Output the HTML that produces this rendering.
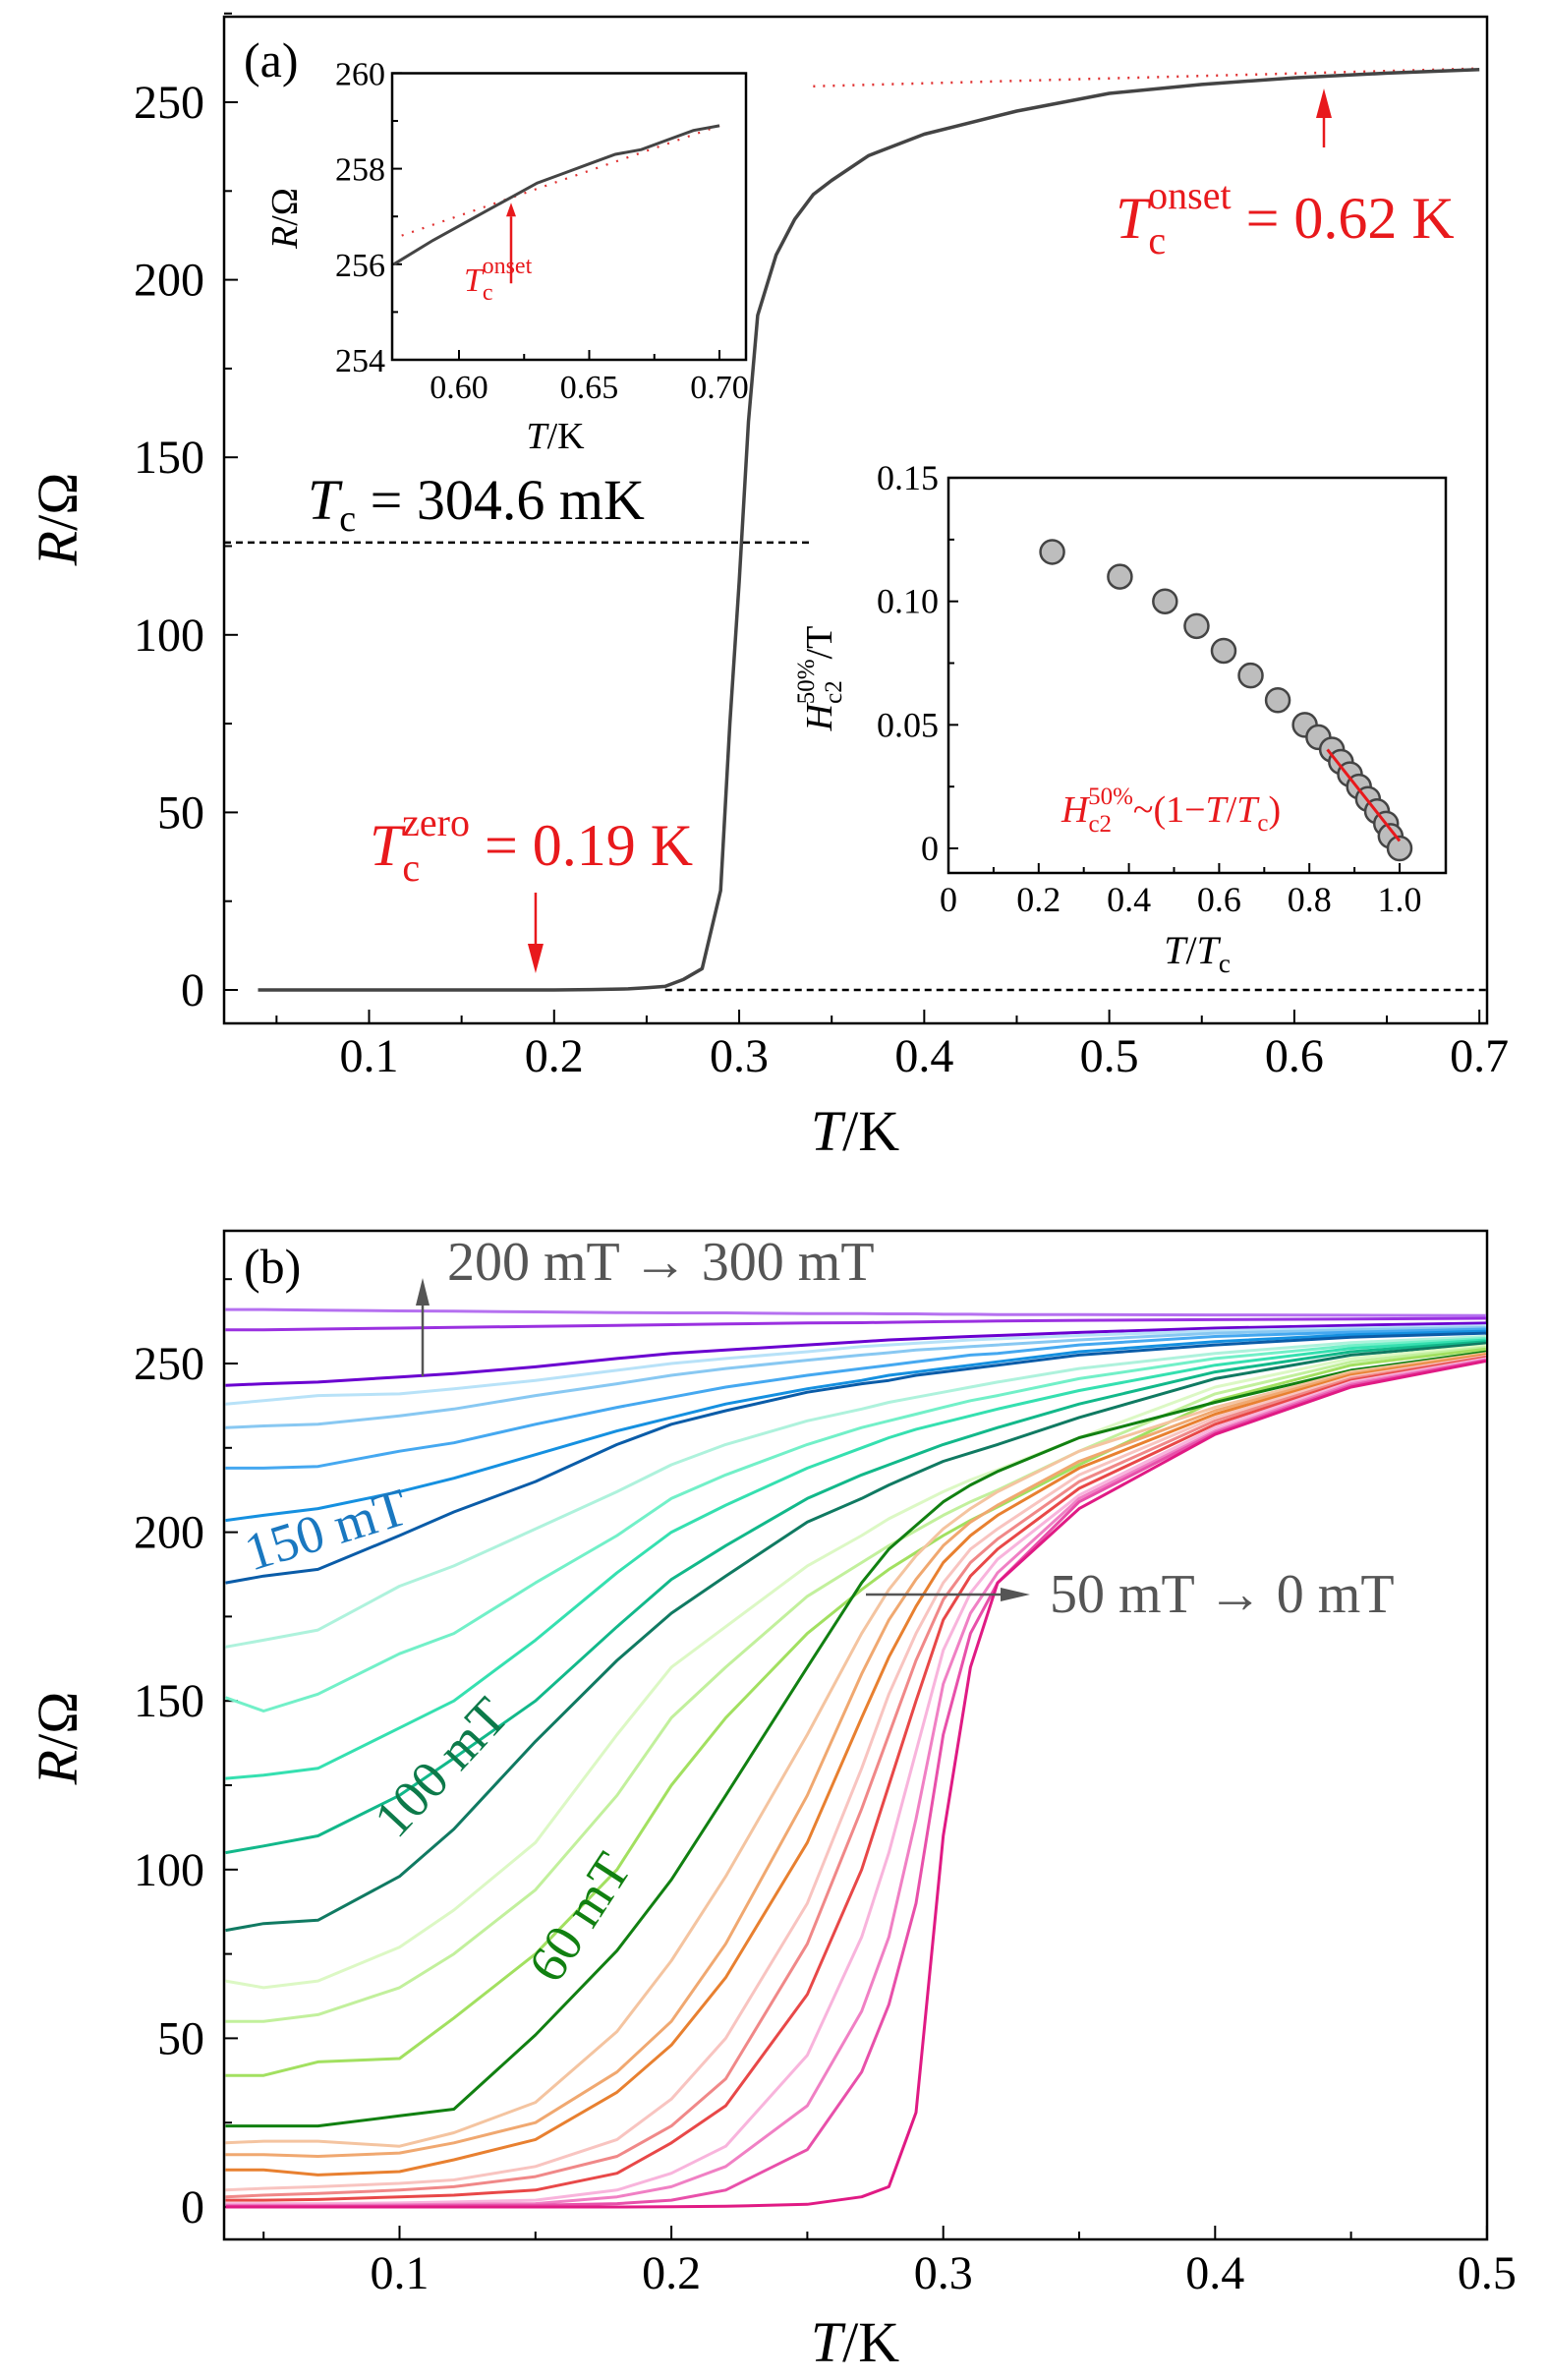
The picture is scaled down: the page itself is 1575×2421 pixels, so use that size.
<!DOCTYPE html>
<html><head><meta charset="utf-8">
<style>
html,body{margin:0;padding:0;background:#fff;}
svg{display:block;font-family:"Liberation Serif","DejaVu Serif",serif;}
</style></head>
<body>
<svg id="chart" width="1575" height="2421" viewBox="0 0 1575 2421" xmlns="http://www.w3.org/2000/svg">
<g id="pa"></g>
<g id="pb"></g>
</svg>
<script>
// ---------- data: panel a ----------
const mainT = [0.04,0.1,0.15,0.2,0.22,0.24,0.25,0.26,0.27,0.28,0.29,0.295,0.30,0.305,0.31,0.32,0.33,0.34,0.35,0.37,0.40,0.45,0.50,0.55,0.60,0.65,0.70];
const mainR = [0,0,0,0,0.1,0.3,0.6,1,3,6,28,75,115,160,190,207,217,224,228,235,241,247.5,252.5,255,256.9,258.2,259.2];
const aXTicks = [0.1,0.2,0.3,0.4,0.5,0.6,0.7];
const aYTicks = [0,50,100,150,200,250];
const insetT = [0.575,0.59,0.60,0.61,0.62,0.63,0.64,0.65,0.66,0.67,0.68,0.69,0.70];
const insetR = [256.0,256.5,256.8,257.1,257.4,257.7,257.9,258.1,258.3,258.4,258.6,258.8,258.9];
const insetXTicks = [0.60,0.65,0.70];
const insetYTicks = [254,256,258,260];
const hcT = [0.23,0.38,0.48,0.55,0.61,0.67,0.73,0.79,0.82,0.85,0.87,0.89,0.91,0.93,0.95,0.97,0.98,1.0];
const hcH = [0.12,0.11,0.10,0.09,0.08,0.07,0.06,0.05,0.045,0.04,0.035,0.03,0.025,0.02,0.015,0.01,0.005,0.0];
const hcXTicks = [0,0.2,0.4,0.6,0.8,1.0];
const hcYTicks = [0,0.05,0.10,0.15];
// ---------- data: panel b ----------
const bXTicks = [0.1,0.2,0.3,0.4,0.5];
const bYTicks = [0,50,100,150,200,250];
const bT = [0.036,0.05,0.07,0.1,0.12,0.15,0.18,0.2,0.22,0.25,0.27,0.28,0.29,0.3,0.31,0.32,0.35,0.4,0.45,0.5];
const seriesColors = ["#b570f0","#9a30e0","#6a00d0","#b8e2f8","#88c8f2","#45a8f0","#1590e0","#0a5ca8","#aef2dc","#72f0c8","#35e0b0","#12b88a","#107a62","#dcf8c4","#c2f09c","#a2e060","#118011","#f4c4a0","#f0a870","#e88030","#f8c4c0","#f08888","#e84848","#f8b4dc","#f080c4","#e850aa","#e01a84"];
const seriesR = [
[266,266,265.8,265.6,265.5,265.3,265.1,265,265,264.8,264.8,264.7,264.7,264.6,264.6,264.5,264.5,264.4,264.3,264.2],
[260,260,260.2,260.5,260.7,261,261.3,261.5,261.7,262,262.1,262.2,262.3,262.4,262.5,262.6,262.8,263,263.2,263.4],
[243.5,244,244.5,246,247,249,251.5,253,254,255.5,256.5,257,257.3,257.7,258,258.3,259.2,260.5,261.3,262],
[238,239,240.5,241,242.5,245,248,250,251.5,253.5,255,255.5,256,256.5,257,257.3,258.3,259.7,260.5,261.2],
[231,231.5,232,234.5,236.5,240.5,244,246.5,248.5,251,252.5,253.2,254,254.5,255,255.5,257,259,260,260.7],
[219,219,219.5,224,226.5,232,237,240,243,246.5,248.5,249.5,250.5,251.5,252.5,253,255.5,258,259.3,260.2],
[203.5,205,207,212,216,223,230,234,238,242.5,245,246.5,247.5,248.5,249.5,250.5,253.5,256.5,258.5,259.6],
[185,187,189,199,206,215,226,232,236,241.5,244,245,246.5,247.5,248.5,249.5,252.5,255.5,257.8,259],
[166,168,171,184,190,201,212,220,226,233,236.5,238.5,240,241.5,243,244.5,248.5,253,256.2,258],
[151,147,152,164,170,185,199,210,217,226,231,233,235,237,239,240.5,245.5,251.5,255.3,257.5],
[127,128,130,142,150,168,188,200,208,219,225,228,230.5,232.5,234.5,236.5,242,249.5,254.5,257],
[105,107,110,122,133,150,172,186,196,210,217,220,223,226,228.5,231,238,247.5,253.5,256.5],
[82,84,85,98,112,138,162,176,187,203,210,214,217.5,221,223.5,226,234,245.5,252.5,256],
[67,65,67,77,88,108,140,160,172,190,199,204,208,212,215.5,218.5,228,243,251.5,255.3],
[55,55,57,65,75,94,122,145,160,181,191,196,200.5,205,209,212.5,224,241,250.5,254.8],
[39,39,43,44,56,75,100,125,145,170,183,189,194,199,203.5,207.5,220,239,249.5,254.3],
[24,24,24,27,29,51,76,97,122,160,185,195,202,209,214,218,228,238.5,248,253.5],
[19,19.5,19.5,18,22,31,52,73,98,140,170,183,193,201,207,212,224,237,247.5,253],
[15.5,15.5,15,16,19,25,40,55,78,122,158,174,186,196,203,208,221,236,247,252.8],
[11,11,9.5,10.5,14,20,34,48,68,108,145,163,178,191,199,205,219,235,246.5,252.5],
[5,5.5,6,7,8,12,20,32,50,90,130,152,170,185,195,201,217,234,246,252.2],
[3,3.5,4,5,6,9,15,24,38,78,118,140,162,180,191,198,215,233,245.5,252],
[2,2,2.2,3,3.5,5,10,19,30,63,100,125,150,174,187,195,213,232,245,251.8],
[1,1,1,1.2,1.5,2,5,10,18,45,80,105,135,165,182,192,211,231,244.5,251.5],
[0.5,0.5,0.5,0.6,0.8,1,3,6,12,30,58,80,115,155,176,188,210,230,244,251.2],
[0.2,0.2,0.2,0.3,0.4,0.5,1,2,5,17,40,60,90,140,170,185,209,229.5,243.5,251],
[0,0,0,0,0,0,0,0.1,0.2,0.8,3,6,28,110,160,185,207,229,243,250.8]
];

// ---------- helpers ----------
const NS = "http://www.w3.org/2000/svg";
function mk(parent, tag, attrs, text){
  const e = document.createElementNS(NS, tag);
  for (const k in attrs) e.setAttribute(k, attrs[k]);
  if (text !== undefined) e.textContent = text;
  parent.appendChild(e);
  return e;
}
function poly(xs, ys, fx, fy){ return xs.map((x,i)=>fx(x).toFixed(1)+","+fy(ys[i]).toFixed(1)).join(" "); }

const pa = document.getElementById("pa");
const pb = document.getElementById("pb");

const xa = t => 375.5 + (t-0.1)*1882.8;
const ya = r => 1007 - r*3.612;
const xi = t => 467 + (t-0.6)*2650;
const yi = r => 366 - (r-254)*48.6;
const xh = t => 965 + t*459;
const yh = h => 863 - h*2513;
const xb = t => 406.5 + (t-0.1)*2766;
const yb = r => 2245 - r*3.432;

const TICKF = 48, TITLEF = 58;
// ================= PANEL A =================
let el;
el = mk(pa,"rect",{x:228,y:17,width:1285,height:1024,fill:"none",stroke:"#000","stroke-width":2.5});


for (let v=0.05; v<=0.701; v+=0.05){
  const major = Math.abs(Math.round(v*10)-v*10)<1e-6;
  el = mk(pa,"line",{x1:xa(v),x2:xa(v),y1:1041,y2:1041-(major?14:8),stroke:"#000","stroke-width":2});
  
  
}
aXTicks.forEach(v=>{
  el = mk(pa,"text",{x:xa(v),y:1090,"font-size":TICKF,"text-anchor":"middle"},v.toFixed(1));
  
  
});
for (let v=0; v<=275; v+=25){
  const major = v%50===0;
  el = mk(pa,"line",{x1:228,x2:228+(major?14:8),y1:ya(v),y2:ya(v),stroke:"#000","stroke-width":2});
  
  
}
aYTicks.forEach(v=>{
  el = mk(pa,"text",{x:208,y:ya(v)+16,"font-size":TICKF,"text-anchor":"end"},String(v));
  
  
});
el = mk(pa,"text",{x:870,y:1170,"font-size":TITLEF,"text-anchor":"middle"});
el.innerHTML = '<tspan font-style="italic">T</tspan>/K';


el = mk(pa,"text",{x:0,y:0,"font-size":TITLEF,"text-anchor":"middle",transform:"translate(78,528) rotate(-90)"});
el.innerHTML = '<tspan font-style="italic">R</tspan>/Ω';


el = mk(pa,"text",{x:248,y:78,"font-size":50},"(a)");


el = mk(pa,"line",{x1:228,x2:xa(0.34),y1:ya(126),y2:ya(126),stroke:"#000","stroke-width":2.5,"stroke-dasharray":"7,5"});


el = mk(pa,"line",{x1:xa(0.26),x2:1513,y1:ya(0),y2:ya(0),stroke:"#000","stroke-width":2.5,"stroke-dasharray":"7,5"});


el = mk(pa,"line",{x1:xa(0.34),x2:xa(0.7),y1:ya(254.5),y2:ya(259.5),stroke:"#e03030","stroke-width":2.5,"stroke-dasharray":"2,8"});


el = mk(pa,"polyline",{points:poly(mainT,mainR,xa,ya),fill:"none",stroke:"#444","stroke-width":3.5,"stroke-linejoin":"round"});


el = mk(pa,"text",{x:313,y:528,"font-size":58});
el.innerHTML = '<tspan font-style="italic">T</tspan><tspan font-size="38" dy="12">c</tspan><tspan dy="-12"> = 304.6 mK</tspan>';


el = mk(pa,"text",{x:376,y:880,"font-size":60,fill:"#e8191c"});
el.innerHTML = '<tspan font-style="italic">T</tspan><tspan font-size="40" dy="16">c</tspan><tspan font-size="40" dx="-18" dy="-46">zero</tspan><tspan dy="30"> = 0.19 K</tspan>';


el = mk(pa,"line",{x1:xa(0.19),x2:xa(0.19),y1:908,y2:962,stroke:"#e8191c","stroke-width":2.5});


mk(pa,"polygon",{points:`${xa(0.19)-8},960 ${xa(0.19)+8},960 ${xa(0.19)},990`,fill:"#e8191c"});
el = mk(pa,"text",{x:1135,y:242,"font-size":60,fill:"#e8191c"});
el.innerHTML = '<tspan font-style="italic">T</tspan><tspan font-size="40" dy="16">c</tspan><tspan font-size="40" dx="-18" dy="-46">onset</tspan><tspan dy="30"> = 0.62 K</tspan>';


el = mk(pa,"line",{x1:1347,x2:1347,y1:150,y2:118,stroke:"#e8191c","stroke-width":2.5});


mk(pa,"polygon",{points:`1339,120 1355,120 1347,90`,fill:"#e8191c"});

// ---- inset 1 ----
el = mk(pa,"rect",{x:399,y:74.5,width:360,height:291.5,fill:"#fff",stroke:"#000","stroke-width":2.5});


for (let v=0.6; v<=0.7001; v+=0.025){
  const major = Math.abs(Math.round(v*20)-v*20)<1e-6;
  mk(pa,"line",{x1:xi(v),x2:xi(v),y1:366,y2:366-(major?10:6),stroke:"#000","stroke-width":2});
}
insetXTicks.forEach(v=>{
  el = mk(pa,"text",{x:xi(v),y:405,"font-size":34,"text-anchor":"middle"},v.toFixed(2));
  
  
});
for (let v=254; v<=260; v+=1){
  mk(pa,"line",{x1:399,x2:399+(v%2===0?10:6),y1:yi(v),y2:yi(v),stroke:"#000","stroke-width":2});
}
insetYTicks.forEach(v=>{
  el = mk(pa,"text",{x:392,y:yi(v)+12,"font-size":34,"text-anchor":"end"},String(v));
  
  
});
el = mk(pa,"text",{x:565,y:456,"font-size":38,"text-anchor":"middle"});
el.innerHTML = '<tspan font-style="italic">T</tspan>/K';


el = mk(pa,"text",{x:0,y:0,"font-size":38,"text-anchor":"middle",transform:"translate(302,222) rotate(-90)"});
el.innerHTML = '<tspan font-style="italic">R</tspan>/Ω';


el = mk(pa,"line",{x1:xi(0.578),x2:xi(0.7),y1:yi(256.6),y2:yi(258.9),stroke:"#e03030","stroke-width":2.2,"stroke-dasharray":"2,9"});


el = mk(pa,"polyline",{points:poly(insetT,insetR,xi,yi),fill:"none",stroke:"#444","stroke-width":3});


mk(pa,"line",{x1:xi(0.62),x2:xi(0.62),y1:yi(255.6),y2:yi(257),stroke:"#e8191c","stroke-width":2.5});
mk(pa,"polygon",{points:`${xi(0.62)-5},${yi(257)} ${xi(0.62)+5},${yi(257)} ${xi(0.62)},${yi(257)-14}`,fill:"#e8191c"});
el = mk(pa,"text",{x:472,y:296,"font-size":34,fill:"#e8191c"});
el.innerHTML = '<tspan font-style="italic">T</tspan><tspan font-size="24" dy="9">c</tspan><tspan font-size="24" dx="-11" dy="-27">onset</tspan>';



// ---- inset 2 ----
el = mk(pa,"rect",{x:965,y:486,width:506,height:402,fill:"#fff",stroke:"#000","stroke-width":2.5});


for (let v=0; v<=1.0001; v+=0.1){
  const major = Math.abs(Math.round(v*5)-v*5)<1e-6;
  mk(pa,"line",{x1:xh(v),x2:xh(v),y1:888,y2:888-(major?10:6),stroke:"#000","stroke-width":2});
}
hcXTicks.forEach(v=>{
  el = mk(pa,"text",{x:xh(v),y:927,"font-size":36,"text-anchor":"middle"},v===0?"0":v.toFixed(1));
  
  
});
for (let v=0; v<=0.1501; v+=0.025){
  const major = Math.abs(Math.round(v*20)-v*20)<1e-6;
  mk(pa,"line",{x1:965,x2:965+(major?10:6),y1:yh(v),y2:yh(v),stroke:"#000","stroke-width":2});
}
hcYTicks.forEach(v=>{
  el = mk(pa,"text",{x:955,y:yh(v)+12,"font-size":36,"text-anchor":"end"},v===0?"0":v.toFixed(2));
  
  
});
el = mk(pa,"text",{x:1218,y:980,"font-size":40,"text-anchor":"middle"});
el.innerHTML = '<tspan font-style="italic">T</tspan>/<tspan font-style="italic">T</tspan><tspan font-size="27" dy="9">c</tspan>';


el = mk(pa,"text",{x:0,y:0,"font-size":38,"text-anchor":"middle",transform:"translate(846,690) rotate(-90)"});
el.innerHTML = '<tspan font-style="italic">H</tspan><tspan font-size="25" dy="10">c2</tspan><tspan font-size="25" dx="-24" dy="-28">50%</tspan><tspan dy="18">/T</tspan>';


hcT.forEach((t,i)=>{
  el = mk(pa,"circle",{cx:xh(t),cy:yh(hcH[i]),r:12,fill:"#bdbdbd",stroke:"#444","stroke-width":2.5});
  
  
});
el = mk(pa,"line",{x1:xh(0.84),x2:xh(1.0),y1:yh(0.04),y2:yh(0.003),stroke:"#e8191c","stroke-width":3});


el = mk(pa,"text",{x:1080,y:836,"font-size":38,fill:"#e8191c"});
el.innerHTML = '<tspan font-style="italic">H</tspan><tspan font-size="25" dy="10">c2</tspan><tspan font-size="25" dx="-24" dy="-28">50%</tspan><tspan dy="18">~(1−</tspan><tspan font-style="italic">T</tspan>/<tspan font-style="italic">T</tspan><tspan font-size="25" dy="9">c</tspan><tspan dy="-9">)</tspan>';



// ================= PANEL B =================
el = mk(pb,"rect",{x:228,y:1252,width:1285,height:1026,fill:"none",stroke:"#000","stroke-width":2.5});


for (let v=0.05; v<=0.501; v+=0.05){
  const major = Math.abs(Math.round(v*10)-v*10)<1e-6;
  el = mk(pb,"line",{x1:xb(v),x2:xb(v),y1:2278,y2:2278-(major?14:8),stroke:"#000","stroke-width":2});
  
  
}
bXTicks.forEach(v=>{
  el = mk(pb,"text",{x:xb(v),y:2328,"font-size":TICKF,"text-anchor":"middle"},v.toFixed(1));
  
  
});
for (let v=0; v<=275; v+=25){
  const major = v%50===0;
  el = mk(pb,"line",{x1:228,x2:228+(major?14:8),y1:yb(v),y2:yb(v),stroke:"#000","stroke-width":2});
  
  
}
bYTicks.forEach(v=>{
  el = mk(pb,"text",{x:208,y:yb(v)+16,"font-size":TICKF,"text-anchor":"end"},String(v));
  
  
});
el = mk(pb,"text",{x:870,y:2402,"font-size":TITLEF,"text-anchor":"middle"});
el.innerHTML = '<tspan font-style="italic">T</tspan>/K';


el = mk(pb,"text",{x:0,y:0,"font-size":TITLEF,"text-anchor":"middle",transform:"translate(78,1768) rotate(-90)"});
el.innerHTML = '<tspan font-style="italic">R</tspan>/Ω';


el = mk(pb,"text",{x:248,y:1305,"font-size":50},"(b)");


const clip = mk(pb,"clipPath",{id:"clipb"});
mk(clip,"rect",{x:229,y:1253,width:1283,height:1024});
const gs = mk(pb,"g",{"clip-path":"url(#clipb)"});
seriesR.forEach((rs,i)=>{
  el = mk(gs,"polyline",{points:poly(bT,rs,xb,yb),fill:"none",stroke:seriesColors[i],"stroke-width":3,"stroke-linejoin":"round"});
  
  
});
el = mk(pb,"line",{x1:430,x2:430,y1:1400,y2:1325,stroke:"#555","stroke-width":2.5});


mk(pb,"polygon",{points:"423,1328 437,1328 430,1300",fill:"#555"});
el = mk(pb,"text",{x:455,y:1302,"font-size":56,fill:"#555"},"200 mT → 300 mT");


el = mk(pb,"line",{x1:881,x2:1020,y1:1622,y2:1622,stroke:"#555","stroke-width":2.5});


mk(pb,"polygon",{points:"1018,1615 1018,1629 1048,1622",fill:"#555"});
el = mk(pb,"text",{x:1068,y:1640,"font-size":56,fill:"#555"},"50 mT → 0 mT");


el = mk(pb,"text",{x:0,y:0,"font-size":54,fill:"#1a78c0",transform:"translate(256,1598) rotate(-17)"},"150 mT");


el = mk(pb,"text",{x:0,y:0,"font-size":54,fill:"#0d7a4a",transform:"translate(404,1872) rotate(-47)"},"100 mT");


el = mk(pb,"text",{x:0,y:0,"font-size":54,fill:"#118011",transform:"translate(566,2020) rotate(-57)"},"60 mT");


</script>
</body></html>
